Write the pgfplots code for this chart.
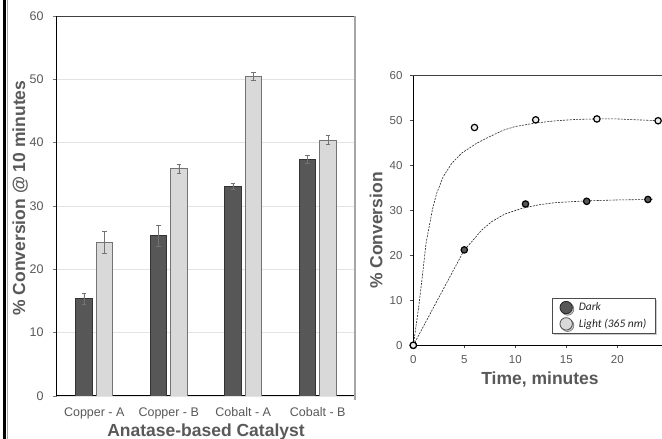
\documentclass[border=0pt]{standalone}
\usepackage{fontspec}
\setmainfont{Liberation Sans}
\newfontfamily\calibri{Carlito}
\usepackage{pgfplots}
\usepackage{pgfplotstable}
\pgfplotsset{compat=1.18}
\usetikzlibrary{shadows}
\definecolor{txtGray}{HTML}{595959}
\definecolor{barDark}{HTML}{575757}
\definecolor{barLight}{HTML}{D9D9D9}
\definecolor{gridGray}{HTML}{E3E3E3}

% bar chart: conversion after 10 minutes
\pgfplotstableread{
x dark darkerr light lighterr
0 15.4 0.9 24.3 1.75
1 25.3 1.6 35.9 0.7
2 33.1 0.5 50.5 0.6
3 37.4 0.6 40.4 0.7
}\bardata

% kinetics points
\pgfplotstableread{
t conv
0 0
5 21.2
11 31.4
17 32.0
23 32.4
}\darkpts
\pgfplotstableread{
t conv
0 0
6 48.4
12 50.1
18 50.3
24 49.9
}\lightpts

\pgfplotsset{
  panel base/.style={
    scale only axis,
    axis x line*=bottom, axis y line*=left,
    axis line style={black, line width=1pt},
    tick align=outside,
    /pgf/number format/assume math mode=true,
    tick label style={text=txtGray},
    label style={text=txtGray, font=\fontsize{17.5}{20}\selectfont\bfseries},
  }
}

\begin{document}
\begin{tikzpicture}[x=1pt,y=1pt]
\useasboundingbox (0,0) rectangle (662,439);
\fill[white] (0,0) rectangle (662,439);
\draw[black, line width=2.7pt] (4.7,0) -- (4.7,439);
\draw[black!35, line width=0.8pt] (7.6,0) -- (7.6,439);

\begin{axis}[
  panel base,
  at={(57pt,43pt)}, anchor=south west,
  width=298pt, height=380pt,
  xmin=-0.5, xmax=3.5, ymin=0, ymax=60,
  ybar=4pt, bar width=16.5pt,
  ytick={0,10,...,60},
  ymajorgrids, grid style={gridGray, line width=0.6pt},
  major tick length=4pt,
  ytick style={draw=black!55, line width=0.6pt},
  yticklabel style={anchor=east, inner sep=0pt, xshift=-9.3pt,
    font=\fontsize{12.5}{14}\selectfont},
  xtick={0,1,2,3},
  xticklabels={Copper - A, Copper - B, Cobalt - A, Cobalt - B},
  xtick style={draw=none},
  xticklabel style={anchor=base, inner sep=0pt, yshift=-16.7pt,
    font=\fontsize{12.5}{14}\selectfont},
  extra x ticks={-0.5,0.5,1.5,2.5,3.5},
  extra x tick labels={},
  extra x tick style={grid=none, tick style={draw=black!55, line width=0.6pt}},
  xlabel={Anatase-based Catalyst},
  xlabel style={at={(axis description cs:0.5,-0.107)}, anchor=base},
  ylabel={\% Conversion @ 10 minutes},
  ylabel style={at={(axis description cs:-0.124,0.521)}, anchor=center},
]
\addplot[fill=barDark, draw=black!80, line width=0.7pt,
  error bars/.cd, y dir=both, y explicit,
  error bar style={black!55, line width=0.5pt},
  error mark options={rotate=90, mark size=2.3pt, black!55, line width=0.5pt}]
  table[x=x, y=dark, y error=darkerr] {\bardata};
\addplot[fill=barLight, draw=black!55, line width=0.7pt,
  error bars/.cd, y dir=both, y explicit,
  error bar style={black!55, line width=0.5pt},
  error mark options={rotate=90, mark size=2.3pt, black!55, line width=0.5pt}]
  table[x=x, y=light, y error=lighterr] {\bardata};
\draw[black!75, line width=0.7pt] (rel axis cs:0,1) -- (rel axis cs:1,1);
\end{axis}
\draw[black!35, line width=1.2pt] (355,423) -- (355,39);

\begin{axis}[
  panel base,
  at={(413.3pt,93.7pt)}, anchor=south west,
  width=255pt, height=270pt,
  xmin=0, xmax=25, ymin=0, ymax=60,
  xtick={0,5,...,25}, ytick={0,10,...,60},
  major tick length=3pt,
  tick style={draw=black!70, line width=0.6pt},
  yticklabel style={anchor=east, inner sep=0pt, xshift=-7.6pt,
    font=\fontsize{11.5}{13}\selectfont},
  xticklabel style={anchor=base, inner sep=0pt, yshift=-15pt,
    font=\fontsize{11.5}{13}\selectfont},
  xlabel={Time, minutes},
  xlabel style={at={(axis description cs:0.497,-0.147)}, anchor=base},
  ylabel={\% Conversion},
  ylabel style={at={(axis description cs:-0.146,0.425)}, anchor=center},
  clip=false,
  legend cell align=left,
  legend style={at={(0.545,0.174)}, anchor=north west,
    draw=black!70, line width=0.6pt, fill=white,
    font=\calibri\itshape\fontsize{11.5}{13}\selectfont,
    text=black!85, row sep=2.6pt, column sep=4pt,
    inner xsep=7pt, inner ysep=2.2pt,
    drop shadow={shadow xshift=1.5pt, shadow yshift=-1.5pt, fill=black!40}},
]
\draw[black!75, line width=0.7pt] (rel axis cs:0,1) -- (rel axis cs:1,1);

\addlegendimage{legend image code/.code={
  \draw[fill=barDark, draw=black!85, line width=0.8pt] (6.4pt,0pt) circle (6.2pt);}}
\addlegendentry{Dark}
\addlegendimage{legend image code/.code={
  \draw[fill=barLight, draw=black!70, line width=0.8pt] (6.4pt,0pt) circle (6.2pt);}}
\addlegendentry{Light (365 nm)}

% fitted curves
\addplot[forget plot, black!85, line width=0.6pt, dash pattern=on 2pt off 1.2pt]
  coordinates {
    (0,0)(0.49,7.8)(0.88,15.2)(1.25,22.7)(1.87,30.1)(2.29,33.8)
    (2.94,37.5)(3.76,40.4)(4.74,42.7)(6.21,44.9)(7.52,46.4)
    (8.82,47.8)(9.97,48.6)(12,49.4)(14,49.9)(16,50.2)(18,50.3)
    (20,50.3)(22,50.1)(24,49.9)
  };
\addplot[forget plot, black!85, line width=0.6pt, dash pattern=on 2pt off 1.2pt]
  coordinates {
    (0,0)(5,21.2)(5.72,23.0)(6.7,25.6)(7.7,27.5)(9.0,29.2)
    (10.6,30.4)(12.25,31.2)(13.9,31.7)(17,32.1)(20,32.3)
    (23,32.4)(23.6,32.5)
  };

\addplot[forget plot, only marks, mark=*, mark size=3.2pt,
  mark options={fill=barDark, draw=black, line width=1.2pt}]
  table[x=t, y=conv] {\darkpts};
\addplot[forget plot, only marks, mark=*, mark size=3.2pt,
  mark options={fill=black!8, draw=black, line width=1.2pt}]
  table[x=t, y=conv] {\lightpts};
\end{axis}
\end{tikzpicture}
\end{document}
